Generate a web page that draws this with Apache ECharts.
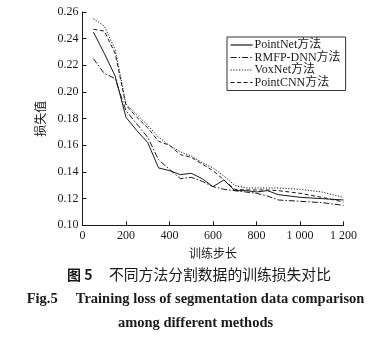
<!DOCTYPE html>
<html>
<head>
<meta charset="utf-8">
<script src="https://cdn.jsdelivr.net/npm/echarts@6/dist/echarts.min.js"></script>
<style>
  html, body { margin: 0; padding: 0; background: #fff; }
  #chart { width: 391px; height: 337px; }
</style>
</head>
<body>
<div id="chart"></div>
<script>
// Training steps (x) and loss per method
const steps = [50, 100, 150, 200, 250, 300, 350, 400, 450, 500, 550, 600, 650, 700, 750, 800, 850, 900, 1000, 1100, 1200];
const pointNet = [0.245, 0.229, 0.212, 0.181, 0.171, 0.162, 0.143, 0.141, 0.138, 0.139, 0.135, 0.129, 0.134, 0.126, 0.126, 0.125, 0.126, 0.123, 0.121, 0.120, 0.119];
const rmfpDnn  = [0.225, 0.214, 0.210, 0.186, 0.176, 0.166, 0.149, 0.142, 0.135, 0.136, 0.133, 0.129, 0.127, 0.126, 0.125, 0.124, 0.122, 0.119, 0.118, 0.117, 0.115];
const voxNet   = [0.255, 0.2495, 0.232, 0.191, 0.183, 0.175, 0.166, 0.160, 0.155, 0.152, 0.147, 0.143, 0.137, 0.130, 0.128, 0.128, 0.128, 0.128, 0.127, 0.125, 0.121];
const pointCnn = [0.247, 0.2457, 0.229, 0.190, 0.181, 0.173, 0.163, 0.160, 0.153, 0.151, 0.146, 0.141, 0.134, 0.127, 0.1265, 0.1265, 0.1265, 0.126, 0.124, 0.121, 0.1175];

const seriesNames = ['PointNet方法', 'RMFP-DNN方法', 'VoxNet方法', 'PointCNN方法'];
const xTicks = { min: 0, max: 1200, interval: 200 };
const yTicks = { min: 0.10, max: 0.26, interval: 0.02 };

const serif = '"Liberation Serif", "Times New Roman", "Noto Sans CJK SC", serif';
const cjk = '"Noto Sans CJK SC", sans-serif';
const ink = '#1a1a1a';

function pairs(ys) { return steps.map((x, i) => [x, ys[i]]); }

const lineDefs = [
  { name: seriesNames[0], data: pointNet, type: 'solid' },
  { name: seriesNames[1], data: rmfpDnn,  type: [6, 2, 1.5, 2] },
  { name: seriesNames[2], data: voxNet,   type: [1.2, 1.6] },
  { name: seriesNames[3], data: pointCnn, type: [4, 2.5] }
];

const chart = echarts.init(document.getElementById('chart'), null, { renderer: 'canvas' });

chart.setOption({
  animation: false,
  backgroundColor: '#fff',
  grid: { left: 82.5, right: 47.5, top: 12, bottom: 111.7, containLabel: false },
  legend: {
    orient: 'vertical',
    left: 227,
    top: 37,
    data: seriesNames,
    borderColor: '#333',
    borderWidth: 1,
    padding: [2, 5, 2, 3],
    itemWidth: 22,
    itemHeight: 10,
    itemGap: 0.5,
    itemStyle: { opacity: 0, borderWidth: 0 },
    lineStyle: { width: 1.2 },
    textStyle: { fontFamily: serif, fontSize: 12, lineHeight: 12, color: ink, padding: [0, 0, 0, -3] }
  },
  xAxis: {
    type: 'value',
    min: xTicks.min, max: xTicks.max, interval: xTicks.interval,
    name: '训练步长',
    nameLocation: 'middle',
    nameGap: 20,
    nameTextStyle: { fontFamily: cjk, fontSize: 12, color: ink },
    axisLine: { lineStyle: { color: ink, width: 1 } },
    axisTick: { inside: true, length: 4, lineStyle: { color: ink } },
    splitLine: { show: false },
    axisLabel: {
      margin: 5,
      fontFamily: serif, fontSize: 12, color: ink,
      formatter: v => v >= 1000 ? String(v).replace(/(\d)(\d{3})$/, '$1 $2') : String(v)
    }
  },
  yAxis: {
    type: 'value',
    min: yTicks.min, max: yTicks.max, interval: yTicks.interval,
    name: '损失值',
    nameLocation: 'middle',
    nameRotate: 90,
    nameGap: 28,
    nameTextStyle: { fontFamily: cjk, fontSize: 12, color: ink },
    axisLine: { show: true, lineStyle: { color: ink, width: 1 } },
    axisTick: { show: true, inside: true, length: 4, lineStyle: { color: ink } },
    splitLine: { show: false },
    axisLabel: {
      margin: 4,
      fontFamily: serif, fontSize: 12, color: ink,
      formatter: v => v.toFixed(2)
    }
  },
  series: lineDefs.map(d => ({
    name: d.name,
    type: 'line',
    data: pairs(d.data),
    symbol: 'none',
    color: ink,
    lineStyle: { color: ink, width: 1, type: d.type }
  })),
  graphic: [
    {
      type: 'text', left: 67, top: 267,
      style: {
        text: '{b|图 5}     不同方法分割数据的训练损失对比',
        rich: { b: { fontFamily: cjk, fontSize: 14, fontWeight: 'bold', fill: ink } },
        fontFamily: cjk, fontSize: 14.8, fill: ink
      }
    },
    {
      type: 'text', left: 'center', top: 292,
      style: {
        text: 'Fig.5     Training loss of segmentation data comparison',
        fontFamily: serif, fontSize: 14.5, fontWeight: 'bold', fill: ink
      }
    },
    {
      type: 'text', left: 'center', top: 316,
      style: {
        text: 'among different methods',
        fontFamily: serif, fontSize: 14.5, fontWeight: 'bold', fill: ink
      }
    }
  ]
});
</script>
</body>
</html>
